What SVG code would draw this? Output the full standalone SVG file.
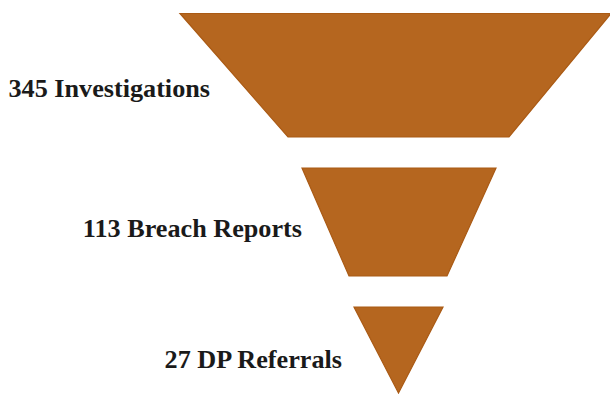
<svg xmlns="http://www.w3.org/2000/svg" width="610" height="394" viewBox="0 0 610 394">
  <style>
    .stage { fill: #B5661F; stroke: #AA5A14; stroke-width: 1.2; stroke-linejoin: miter; }
    .label { font-family: "Liberation Serif", "Times New Roman", serif; font-weight: bold; font-size: 26.2px; fill: #1a1a1a; text-anchor: end; }
  </style>
  <rect width="610" height="394" fill="#ffffff"/>
  <g id="stage-investigations">
    <polygon class="stage" points="180,13.5 611,13.5 509,137 288,137"/>
    <text class="label" x="210" y="97">345 Investigations</text>
  </g>
  <g id="stage-breach-reports">
    <polygon class="stage" points="302,168 496,168 447,276 349,276"/>
    <text class="label" x="302" y="237">113 Breach Reports</text>
  </g>
  <g id="stage-dp-referrals">
    <polygon class="stage" points="354,307 443,307 398.5,393"/>
    <text class="label" x="342" y="368">27 DP Referrals</text>
  </g>
  <g id="connectors"/>
</svg>
